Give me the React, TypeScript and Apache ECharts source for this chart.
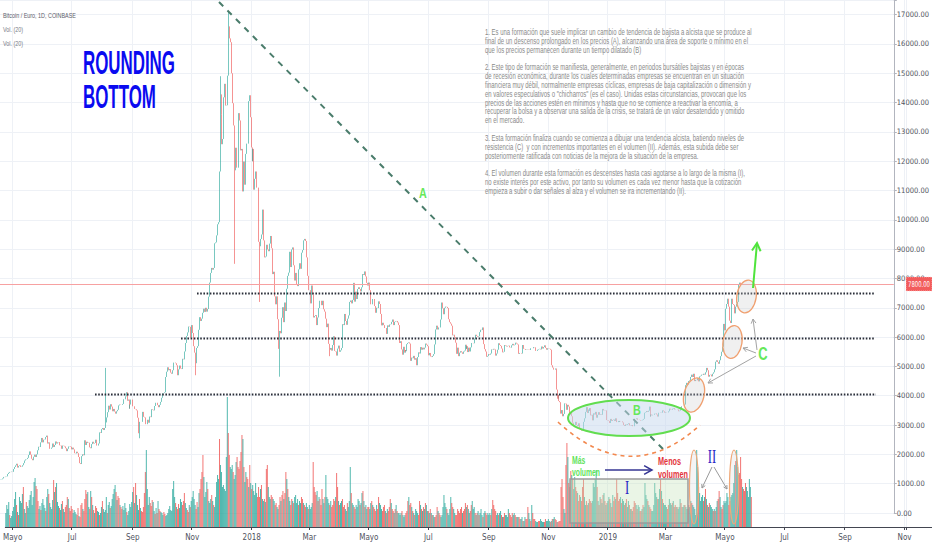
import React, { useEffect, useRef } from "react";
import * as echarts from "echarts";

// ---------- data (BTC / EUR, daily, Coinbase) ----------
const FIRST_DAY = "2017-04-24";
const LAST_AXIS_DAY = "2019-11-02";
const FIRST_OPEN = 1130;
const LAST_PRICE = 7800;

const closes2017 = [
  1140, 1150, 1180, 1230, 1225, 1240, 1250,
  1300, 1330, 1370, 1400, 1395, 1410, 1405, 1500, 1570, 1625, 1680, 1550, 1605, 1625, 1570, 1580, 1630, 1700, 1790, 1830, 1840, 1880, 1980, 2100, 1990, 1850, 1800, 1920, 1990, 1910, 2000,
  2140, 2210, 2260, 2250, 2410, 2560, 2410, 2500, 2510, 2590, 2640, 2370, 2410, 2190, 2190, 2230, 2370, 2250, 2320, 2440, 2370, 2410, 2420, 2310, 2300, 2190, 2300, 2290, 2270, 2210,
  2110, 2190, 2260, 2270, 2280, 2260, 2170, 2230, 2170, 2040, 2030, 2090, 2040, 1910, 1700, 1670, 1940, 2000, 1970, 2480, 2320, 2430, 2390, 2400, 2240, 2210, 2350, 2430, 2370, 2390, 2500,
  2300, 2300, 2370, 2430, 2750, 2730, 2860, 2900, 2830, 2900, 3090, 3260, 3440, 3660, 3530, 3710, 3630, 3470, 3550, 3460, 3390, 3470, 3520, 3670, 3700, 3690, 3690, 3720, 3880, 3880, 3980,
  4120, 3830, 3870, 3560, 3700, 3870, 3870, 3640, 3640, 3550, 3540, 3500, 3250, 2720, 3110, 3110, 3110, 3450, 3280, 3260, 3030, 3030, 3180, 3080, 3290, 3270, 3540, 3520, 3500, 3650,
  3760, 3760, 3680, 3610, 3690, 3730, 3790, 3930, 4080, 4090, 4120, 4640, 4820, 4970, 4870, 4910, 4790, 4750, 4870, 5130, 5130, 5110, 5040, 4700, 4900, 5030, 4930, 4910, 5260, 5240, 5510,
  5800, 6040, 6160, 6360, 6350, 5980, 6100, 6410, 6140, 5690, 5470, 5110, 5630, 5690, 6250, 6680, 6550, 6630, 6830, 6970, 6860, 7000, 6870, 6960, 7380, 7860, 8190, 8360, 8300, 8360,
  9200, 9230, 9470, 9850, 9920, 11650, 14280, 13600, 12580, 12760, 14180, 14640, 13900, 13910, 14920, 16600, 16190, 16060, 15000, 13980, 13220, 11690, 12460, 11780, 11780, 13640, 13390, 12370, 12420, 10970, 11990,
];
const closes2018 = [
  11200, 12250, 12600, 12600, 14050, 14250, 13500, 12470, 12000, 12420, 11030, 11400, 11650, 11100, 11100, 9250, 9100, 9350, 9500, 10350, 9300, 8720, 8750, 9150, 8990, 8930, 9190, 9450, 9030, 8150, 8230,
  7390, 7120, 7390, 6610, 5600, 6210, 6130, 6660, 7020, 6900, 6510, 7180, 6890, 7650, 8090, 8200, 8910, 8390, 8990, 9060, 8450, 7930, 8190, 7790, 7740, 8310, 8520, 8330,
  8880, 8970, 9300, 9350, 9280, 8720, 8090, 7600, 7600, 7150, 7760, 7450, 7440, 6670, 6720, 6750, 6410, 6670, 6990, 7240, 7240, 7090, 7240, 6950, 6870, 6630, 6340, 6460, 5770, 5570, 5630,
  5540, 5730, 6030, 5530, 5510, 5370, 5610, 5710, 5500, 5550, 5630, 6440, 6410, 6500, 6790, 6550, 6420, 6630, 6740, 7200, 7250, 7150, 7270, 7850, 7210, 7550, 7300, 7640, 7700, 7640,
  7560, 7700, 8150, 8120, 8240, 8070, 7850, 7760, 7860, 7600, 7120, 7120, 7300, 7300, 7200, 7060, 6830, 7000, 6990, 7220, 7130, 6790, 6400, 6490, 6410, 6310, 6310, 6110, 6400, 6350, 6430,
  6440, 6520, 6600, 6410, 6520, 6540, 6550, 6500, 6410, 5800, 5860, 5580, 5400, 5670, 5470, 5560, 5520, 5760, 5800, 5820, 5780, 5190, 5300, 5280, 5360, 5230, 5280, 5040, 5320, 5480,
  5440, 5660, 5570, 5640, 5580, 5640, 5780, 5740, 5690, 5380, 5460, 5340, 5320, 5360, 5420, 5750, 6260, 6320, 6390, 6260, 6330, 6330, 6600, 7180, 6980, 6780, 7000, 7040, 7030, 6990, 6610,
  6510, 6460, 6390, 6060, 6080, 6000, 5810, 5430, 5640, 5350, 5470, 5520, 5480, 5430, 5510, 5540, 5740, 5600, 5690, 5490, 5640, 5510, 5650, 5800, 5800, 5790, 5950, 6080, 6040, 6010, 6030,
  6170, 6250, 6240, 6330, 5760, 5590, 5510, 5330, 5360, 5420, 5400, 5440, 5580, 5570, 5600, 5580, 5370, 5440, 5480, 5570, 5790, 5730, 5700, 5610, 5480, 5500, 5730, 5710, 5680, 5700,
  5710, 5650, 5640, 5720, 5770, 5720, 5740, 5810, 5780, 5750, 5430, 5460, 5460, 5440, 5730, 5600, 5590, 5560, 5570, 5580, 5580, 5570, 5560, 5620, 5620, 5620, 5660, 5650, 5530, 5530, 5570,
  5590, 5600, 5580, 5680, 5610, 5660, 5720, 5630, 5570, 5620, 5610, 5600, 5570, 5040, 4960, 4890, 4890, 4930, 4210, 3900, 4030, 3820, 3780, 3390, 3510, 3300, 3380, 3740, 3730, 3520,
  3690, 3630, 3360, 3420, 3300, 3080, 2990, 3000, 3110, 3000, 2960, 3060, 2870, 2840, 2810, 2840, 3110, 3230, 3450, 3610, 3410, 3530, 3490, 3580, 3330, 3350, 3160, 3400, 3360, 3450, 3250,
];
const closes2019 = [
  3350, 3440, 3350, 3370, 3350, 3550, 3500, 3490, 3500, 3170, 3160, 3140, 3070, 3210, 3140, 3170, 3190, 3140, 3230, 3100, 3100, 3140, 3110, 3140, 3130, 3130, 3090, 3000, 2970, 3020, 3000,
  3030, 3060, 2990, 2980, 3000, 2960, 2960, 3200, 3200, 3230, 3180, 3180, 3170, 3150, 3160, 3180, 3210, 3420, 3440, 3480, 3450, 3490, 3630, 3290, 3360, 3330, 3350, 3350,
  3390, 3400, 3360, 3290, 3420, 3420, 3430, 3420, 3500, 3470, 3420, 3440, 3430, 3430, 3470, 3560, 3530, 3520, 3560, 3580, 3530, 3540, 3540, 3530, 3470, 3490, 3610, 3590, 3640, 3640, 3640,
  3700, 4360, 4440, 4380, 4500, 4520, 4640, 4720, 4640, 4750, 4500, 4540, 4530, 4600, 4490, 4660, 4680, 4720, 4710, 4750, 4720, 4800, 4950, 4870, 4650, 4710, 4720, 4710, 4660, 4750,
  4800, 4900, 5160, 5210, 5150, 5090, 5210, 5350, 5500, 5670, 6450, 6230, 6970, 7130, 7310, 7040, 6560, 6480, 7310, 7130, 7100, 6810, 7040, 7130, 7200, 7790, 7860, 7800,
];

// notable wicks: [date, high, low]
const wicks: Array<[string, number | null, number | null]> = [
  ["2017-08-11", 4950, null],
  ["2017-09-15", null, 2550],
  ["2017-11-12", null, 4700],
  ["2017-12-07", 14900, null],
  ["2017-12-16", 17100, null],
  ["2017-12-22", null, 8500],
  ["2018-01-17", null, 7200],
  ["2018-02-06", null, 4650],
  ["2018-03-30", null, 5350],
];

// volume (x40 BTC)
const volumes2017 = [
  14, 22, 18, 25, 12, 9, 11,
  16, 20, 28, 35, 22, 15, 12, 30, 26, 24, 33, 40, 18, 14, 25, 21, 19, 27, 32, 36, 22, 30, 45, 49, 41, 38, 26, 18, 21, 17, 24,
  28, 22, 19, 16, 30, 38, 33, 24, 20, 18, 27, 47, 35, 40, 44, 25, 21, 19, 17, 23, 26, 18, 15, 20, 22, 30, 28, 19, 16, 21,
  18, 14, 17, 15, 13, 12, 19, 11, 10, 22, 24, 18, 16, 28, 37, 33, 35, 20, 18, 36, 30, 22, 17, 14, 21, 19, 16, 15, 12, 14, 20,
  26, 18, 15, 17, 30, 14, 22, 25, 19, 21, 28, 33, 38, 42, 35, 27, 31, 29, 22, 20, 18, 21, 17, 24, 19, 15, 12, 16, 23, 20, 25,
  35, 40, 24, 44, 32, 22, 17, 28, 19, 16, 15, 20, 34, 55, 77, 38, 22, 30, 24, 21, 27, 25, 16, 13, 19, 14, 26, 18, 16, 15,
  14, 12, 15, 13, 11, 12, 14, 18, 21, 17, 16, 38, 46, 30, 24, 20, 18, 23, 19, 28, 25, 22, 26, 34, 24, 19, 17, 15, 22, 20, 26,
  30, 36, 28, 22, 18, 25, 20, 34, 38, 48, 55, 72, 50, 30, 35, 45, 38, 26, 24, 28, 32, 26, 22, 20, 30, 45, 52, 48, 88, 62,
  55, 40, 42, 38, 36, 70, 130, 94, 72, 60, 58, 62, 55, 48, 52, 65, 70, 60, 58, 66, 75, 92, 88, 60, 45, 55, 50, 48, 40, 62, 44,
];
const volumes2018 = [
  38, 42, 36, 32, 44, 34, 30, 40, 30, 38, 42, 28, 26, 28, 25, 58, 62, 40, 30, 28, 32, 30, 28, 26, 22, 24, 20, 18, 22, 30, 26,
  32, 36, 28, 34, 55, 48, 38, 30, 26, 22, 28, 26, 24, 30, 32, 24, 28, 22, 26, 24, 30, 28, 24, 22, 20, 24, 20, 18,
  22, 18, 20, 24, 65, 40, 35, 32, 36, 26, 30, 28, 22, 38, 28, 24, 30, 52, 30, 28, 24, 22, 26, 20, 22, 28, 26, 30, 54, 40, 26,
  22, 24, 26, 28, 20, 22, 18, 16, 24, 20, 26, 60, 34, 24, 22, 20, 18, 22, 20, 28, 26, 22, 24, 34, 36, 26, 20, 22, 18, 20,
  20, 18, 24, 26, 22, 20, 18, 16, 22, 18, 30, 24, 22, 18, 16, 20, 22, 16, 14, 18, 16, 20, 28, 24, 18, 16, 14, 18, 22, 16, 14,
  14, 12, 14, 16, 12, 10, 12, 14, 16, 26, 30, 22, 24, 20, 16, 14, 12, 18, 16, 14, 12, 26, 22, 18, 16, 20, 18, 24, 22, 16,
  16, 14, 18, 14, 12, 12, 10, 10, 12, 20, 16, 14, 12, 10, 12, 20, 32, 24, 20, 18, 14, 12, 18, 30, 24, 20, 18, 14, 12, 12, 18,
  16, 14, 18, 20, 14, 16, 18, 24, 20, 22, 18, 14, 16, 22, 26, 18, 20, 14, 12, 14, 16, 12, 14, 18, 12, 10, 14, 16, 14, 12, 14,
  12, 14, 12, 18, 27, 22, 18, 16, 12, 14, 12, 14, 16, 12, 10, 10, 14, 12, 12, 10, 18, 14, 12, 10, 14, 12, 14, 12, 10, 10,
  10, 10, 8, 8, 10, 6, 6, 10, 8, 8, 20, 14, 8, 6, 22, 14, 8, 8, 6, 5, 5, 6, 6, 8, 6, 5, 5, 5, 8, 6, 6,
  8, 6, 5, 6, 8, 8, 10, 8, 7, 5, 5, 6, 6, 40, 48, 30, 18, 14, 62, 84, 70, 44, 40, 56, 52, 48, 38, 50, 40, 36,
  34, 26, 32, 30, 26, 40, 48, 30, 22, 26, 22, 24, 28, 26, 24, 26, 44, 40, 48, 57, 40, 26, 22, 30, 28, 24, 32, 34, 26, 22, 24,
];
const volumes2019 = [
  26, 30, 28, 24, 20, 32, 26, 30, 28, 48, 34, 26, 28, 30, 24, 28, 26, 22, 24, 28, 20, 26, 22, 18, 18, 16, 20, 26, 24, 22, 18,
  22, 20, 16, 16, 18, 22, 20, 44, 32, 28, 26, 22, 20, 18, 16, 16, 22, 44, 34, 30, 28, 28, 38, 48, 36, 28, 24, 22,
  22, 20, 18, 22, 28, 24, 22, 24, 26, 20, 22, 20, 20, 18, 20, 28, 24, 20, 20, 22, 22, 20, 18, 18, 22, 20, 26, 24, 22, 20, 18,
  12, 77, 60, 40, 34, 26, 30, 32, 26, 30, 38, 28, 22, 20, 24, 22, 20, 18, 16, 18, 16, 20, 26, 28, 36, 30, 20, 18, 22, 26,
  24, 26, 34, 30, 22, 26, 30, 32, 34, 44, 62, 66, 77, 60, 52, 54, 70, 48, 40, 38, 36, 44, 40, 36, 30, 48, 40, 30,
];

const priceMin = 0;
const priceMax = 17500;
const priceStep = 1000;
const volumeMax = 527;
const monthLabels: Record<number, string> = { 3: "Mar", 5: "Mayo", 7: "Jul", 9: "Sep", 11: "Nov" };

const noteLines = [
  "1. Es una formación que suele implicar un cambio de tendencia de bajista a alcista que se produce al",
  "final de un descenso prolongado en los precios (A), alcanzando una área de soporte o mínimo en el",
  "que los precios permanecen durante un tiempo dilatado (B)",
  "",
  "2. Este tipo de formación se manifiesta, generalmente, en periodos bursátiles bajistas y en épocas",
  "de recesión económica, durante los cuales determinadas empresas se encuentran en un situación",
  "financiera muy débil, normalmente empresas cíclicas, empresas de baja capitalización o dimensión y",
  "en valores especulativos o \"chicharros\" (es el caso). Unidas estas circunstancias, provocan que los",
  "precios de las acciones estén en mínimos y hasta que no se comience a reactivar la encomía, a",
  "recuperar la bolsa y a observar una salida de la crisis, se tratará de un valor desatendido y omitido",
  "en el mercado.",
  "",
  "3. Esta formación finaliza cuando se comienza a dibujar una tendencia alcista, batiendo niveles de",
  "resistencia (C)  y con incrementos importantes en el volumen (II). Además, esta subida debe ser",
  "posteriormente ratificada con noticias de la mejora de la situación de la empresa.",
  "",
  "4. El volumen durante esta formación es descenstes hasta casi agotarse a lo largo de la misma (I),",
  "no existe interés por este activo, por tanto su volumen es cada vez menor hasta que la cotización",
  "empieza a subir o dar señales al alza y el volumen se ira incrementando (II).",
];

// ---------- helpers ----------
const SANS = "'Liberation Sans', Arial, sans-serif";
const NARROW = "'Liberation Sans Narrow', 'DejaVu Sans Condensed', sans-serif";
const SERIF = "'Liberation Serif', 'DejaVu Serif', serif";

function buildDates(): string[] {
  const out: string[] = [];
  const d = new Date(FIRST_DAY + "T00:00:00Z");
  const end = new Date(LAST_AXIS_DAY + "T00:00:00Z").getTime();
  while (d.getTime() <= end) {
    out.push(d.toISOString().slice(0, 10));
    d.setUTCDate(d.getUTCDate() + 1);
  }
  return out;
}

let mctx: CanvasRenderingContext2D | null = null;
function fitScale(text: string, weight: string, size: number, family: string, width: number) {
  if (!mctx) mctx = document.createElement("canvas").getContext("2d");
  if (!mctx) return 1;
  mctx.font = `${weight} ${size}px ${family}`;
  const w = mctx.measureText(text).width;
  return w > 0 ? width / w : 1;
}

function txt(text: string, x: number, y: number, o: any) {
  return {
    type: "text",
    z: 100,
    silent: true,
    x,
    y,
    scaleX: o.scaleX ?? 1,
    style: {
      text,
      fill: o.fill,
      fontSize: o.size,
      fontFamily: o.family ?? SANS,
      fontWeight: o.weight ?? "normal",
      align: o.align ?? "left",
      verticalAlign: "middle",
    },
  };
}

function arrow(x1: number, y1: number, x2: number, y2: number, color: string, width: number, head: number) {
  const a = Math.atan2(y2 - y1, x2 - x1);
  const s = 0.5;
  const p1 = [x2 - head * Math.cos(a - s), y2 - head * Math.sin(a - s)];
  const p2 = [x2 - head * Math.cos(a + s), y2 - head * Math.sin(a + s)];
  return [
    { type: "line", z: 100, silent: true, shape: { x1, y1, x2, y2 }, style: { stroke: color, lineWidth: width } },
    { type: "polyline", z: 100, silent: true, shape: { points: [p1, [x2, y2], p2] }, style: { stroke: color, lineWidth: width, fill: "none" } },
  ];
}

function ellipse(cx: number, cy: number, rx: number, ry: number, rot: number, fill: string, stroke: string, lw: number) {
  return { type: "ellipse", z: 99, silent: true, x: cx, y: cy, rotation: rot, shape: { cx: 0, cy: 0, rx, ry }, style: { fill, stroke, lineWidth: lw } };
}

function buildGraphics() {
  const els: any[] = [];
  // support / resistance dotted levels
  const dotted = { stroke: "#2a2e39", lineWidth: 2, lineDash: [1.6, 1.6] };
  els.push({ type: "line", z: 98, silent: true, shape: { x1: 197, y1: 293.5, x2: 874, y2: 293.5 }, style: dotted });
  els.push({ type: "line", z: 98, silent: true, shape: { x1: 181, y1: 338.5, x2: 875, y2: 338.5 }, style: dotted });
  els.push({ type: "line", z: 98, silent: true, shape: { x1: 95, y1: 394.5, x2: 876, y2: 394.5 }, style: dotted });
  // long down-trend (A)
  els.push({ type: "line", z: 98, silent: true, shape: { x1: 219, y1: 2, x2: 667, y2: 453 }, style: { stroke: "#4a7c6b", lineWidth: 2, lineDash: [6, 6] } });
  // rounding bottom arc
  els.push({ type: "bezierCurve", z: 98, silent: true, shape: { x1: 558, y1: 422, cpx1: 630, cpy1: 489, x2: 700, y2: 425 }, style: { stroke: "#f2884e", lineWidth: 1.6, lineDash: [4, 4], fill: "none" } });
  // B zone
  els.push(ellipse(629, 418, 61, 18, 0, "rgba(198,216,238,0.5)", "#62dd4f", 2));
  // breakout circles
  els.push(ellipse(694, 395, 10, 17.5, -0.25, "rgba(200,200,200,0.28)", "#f0a070", 1.3));
  els.push(ellipse(732.5, 342, 9.5, 16.5, -0.15, "rgba(200,200,200,0.28)", "#f0a070", 1.3));
  els.push(ellipse(746.5, 296.5, 9.7, 16.5, -0.15, "rgba(200,200,200,0.28)", "#f0a070", 1.3));
  // volume circles
  els.push(ellipse(694, 487, 4.5, 37, 0, "rgba(200,200,200,0.2)", "#f0a878", 1.2));
  els.push(ellipse(734, 487, 4.5, 37, 0, "rgba(200,200,200,0.2)", "#f0a878", 1.2));
  // box I
  els.push({ type: "rect", z: 97, silent: true, shape: { x: 570, y: 479, width: 118, height: 44 }, style: { fill: "rgba(200,230,190,0.38)", stroke: "#9b9b9b", lineWidth: 1.5 } });
  // arrows
  els.push(...arrow(757, 350, 753, 319, "#a3a3a3", 1, 5));
  els.push(...arrow(756, 353, 743, 348, "#a3a3a3", 1, 5));
  els.push(...arrow(756, 356, 708, 383, "#a3a3a3", 1, 5));
  els.push(...arrow(753, 288, 757, 243, "#4fe43c", 2, 9));
  els.push(...arrow(605, 470, 652, 470, "#353593", 1.5, 9));
  els.push(...arrow(712, 467, 702, 488, "#9a9a9a", 1, 4));
  els.push(...arrow(714, 467, 727, 489, "#9a9a9a", 1, 4));
  // axis line extension under the price scale
  els.push({ type: "line", z: 98, silent: true, shape: { x1: 906, y1: 527.5, x2: 932, y2: 527.5 }, style: { stroke: "#434651", lineWidth: 1 } });

  // title block
  const tScale = fitScale("Bitcoin / Euro, 1D, COINBASE", "normal", 8, SANS, 73);
  els.push(txt("Bitcoin / Euro, 1D, COINBASE", 3, 15, { fill: "#5d606b", size: 8, scaleX: tScale }));
  els.push(txt("Vol. (20)", 3, 29, { fill: "#787b86", size: 8, scaleX: tScale }));
  els.push(txt("Vol. (20)", 3, 43, { fill: "#787b86", size: 8, scaleX: tScale }));

  // ROUNDING BOTTOM
  const rScale = fitScale("ROUNDING", "bold", 34, SANS, 92);
  els.push(txt("ROUNDING", 83, 62.5, { fill: "#0a0af0", size: 34, weight: "bold", scaleX: rScale }));
  els.push(txt("BOTTOM", 83, 96.5, { fill: "#0a0af0", size: 34, weight: "bold", scaleX: rScale }));

  // notes
  const nScale = fitScale(noteLines[0], "normal", 8.5, SANS, 267);
  noteLines.forEach((line, i) => {
    if (line) els.push(txt(line, 485, 32 + i * 8.83, { fill: "#8a8a8a", size: 8.5, scaleX: nScale }));
  });

  // letters
  els.push(txt("A", 423, 193, { fill: "#66e85a", size: 15, weight: "bold", align: "center", scaleX: 0.72 }));
  els.push(txt("B", 637, 410, { fill: "#66e85a", size: 15, weight: "bold", align: "center", scaleX: 0.72 }));
  els.push(txt("C", 763, 354, { fill: "#66e85a", size: 18, weight: "bold", align: "center", scaleX: 0.72 }));
  const gScale = fitScale("volumen", "bold", 10.5, SANS, 28);
  els.push(txt("Más", 572, 460, { fill: "#5fe35a", size: 10.5, weight: "bold", scaleX: gScale }));
  els.push(txt("volumen", 572, 472.5, { fill: "#5fe35a", size: 10.5, weight: "bold", scaleX: gScale }));
  const mScale = fitScale("volumen", "bold", 10.5, SANS, 30);
  els.push(txt("Menos", 658, 462, { fill: "#e3343c", size: 10.5, weight: "bold", scaleX: mScale }));
  els.push(txt("volumen", 658, 475, { fill: "#e3343c", size: 10.5, weight: "bold", scaleX: mScale }));
  els.push(txt("I", 627, 488, { fill: "#2525c5", size: 18, family: SERIF, align: "center", scaleX: 0.7 }));
  els.push(txt("II", 712, 457, { fill: "#2525c5", size: 18, family: SERIF, align: "center", scaleX: 0.7 }));

  // last price tag
  els.push({ type: "rect", z: 101, silent: true, shape: { x: 906, y: 277, width: 26, height: 14 }, style: { fill: "#f25c5c", stroke: "#ffd0d0", lineWidth: 0.6, lineDash: [1, 1] } });
  const pScale = fitScale(LAST_PRICE.toFixed(2), "normal", 8, NARROW, 22);
  els.push({ ...txt(LAST_PRICE.toFixed(2), 919, 284.5, { fill: "#ffffff", size: 8, family: NARROW, align: "center", scaleX: Math.min(1, pScale) }), z: 102 });
  return els;
}

export default function App() {
  const ref = useRef<HTMLDivElement>(null);

  useEffect(() => {
    const el = ref.current;
    if (!el) return;
    const chart = echarts.init(el, null, { renderer: "svg" });

    const dates = buildDates();
    const closes = [...closes2017, ...closes2018, ...closes2019];
    const volumes = [...volumes2017, ...volumes2018, ...volumes2019];
    const wickMap = new Map(wicks.map((w) => [w[0], w]));

    const candles = closes.map((c, i) => {
      const o = i === 0 ? FIRST_OPEN : closes[i - 1];
      let lo = Math.min(o, c);
      let hi = Math.max(o, c);
      const w = wickMap.get(dates[i]);
      if (w) {
        if (w[1] != null) hi = w[1];
        if (w[2] != null) lo = w[2];
      }
      return [o, c, lo, hi];
    });
    const volumeData = volumes.slice(0, closes.length).map((v, i) => ({
      value: v,
      itemStyle: { color: candles[i][1] >= candles[i][0] ? "rgba(38,166,154,0.8)" : "rgba(239,83,80,0.8)" },
    }));

    const isLabelDay = (_i: number, value: string) => {
      const m = +value.slice(5, 7);
      return value.slice(8, 10) === "01" && m % 2 === 1;
    };

    const option: any = {
      animation: false,
      backgroundColor: "#ffffff",
      grid: [
        { left: 0, right: 26, top: 0, height: 513 },
        { left: 0, right: 26, top: 0, bottom: 23 },
      ],
      xAxis: [
        {
          type: "category",
          gridIndex: 0,
          data: dates,
          boundaryGap: true,
          axisLine: { show: false },
          axisTick: { show: false },
          axisLabel: { show: false },
          splitLine: { show: false },
        },
        {
          type: "category",
          gridIndex: 1,
          data: dates,
          boundaryGap: true,
          axisLine: { show: true, lineStyle: { color: "#434651", width: 1 } },
          axisTick: { show: true, interval: isLabelDay, length: 3, lineStyle: { color: "#434651" } },
          axisLabel: {
            show: true,
            interval: isLabelDay,
            margin: 6,
            fontSize: 8,
            fontFamily: NARROW,
            color: "#50535e",
            formatter: (v: string) => {
              const m = +v.slice(5, 7);
              return m === 1 ? v.slice(0, 4) : monthLabels[m] || "";
            },
          },
          splitLine: { show: true, interval: isLabelDay, lineStyle: { color: "#eef1f6", width: 1 } },
        },
      ],
      yAxis: [
        {
          type: "value",
          gridIndex: 0,
          position: "right",
          min: priceMin,
          max: priceMax,
          interval: priceStep,
          axisLine: { show: true, lineStyle: { color: "#b2b5be" } },
          axisTick: { show: true, length: 3, lineStyle: { color: "#b2b5be" } },
          axisLabel: {
            margin: 3,
            fontSize: 7.5,
            fontFamily: NARROW,
            color: "#50535e",
            formatter: (v: number) => (v > 17000 ? "" : v.toFixed(2)),
          },
          splitLine: { show: true, lineStyle: { color: "#eef1f6", width: 1 } },
        },
        {
          type: "value",
          gridIndex: 1,
          min: 0,
          max: volumeMax,
          show: false,
          splitLine: { show: false },
        },
      ],
      series: [
        {
          type: "bar",
          name: "Vol",
          xAxisIndex: 1,
          yAxisIndex: 1,
          data: volumeData,
          barCategoryGap: "10%",
          large: false,
          z: 1,
        },
        {
          type: "candlestick",
          name: "BTCEUR",
          xAxisIndex: 0,
          yAxisIndex: 0,
          data: candles,
          large: false,
          progressive: 0,
          barMaxWidth: 1.2,
          z: 3,
          itemStyle: {
            color: "#26a69a",
            color0: "#ef5350",
            borderColor: "#26a69a",
            borderColor0: "#ef5350",
            borderWidth: 1,
            opacity: 0.62,
          },
          markLine: {
            silent: true,
            symbol: ["none", "none"],
            label: { show: false },
            lineStyle: { color: "#f7a1a1", type: "solid", width: 1 },
            data: [{ yAxis: LAST_PRICE }],
          },
        },
      ],
      graphic: { elements: buildGraphics() },
    };

    chart.setOption(option);
    return () => chart.dispose();
  }, []);

  return <div ref={ref} style={{ position: "fixed", left: 0, top: 0, width: 932, height: 550, background: "#fff" }} />;
}
